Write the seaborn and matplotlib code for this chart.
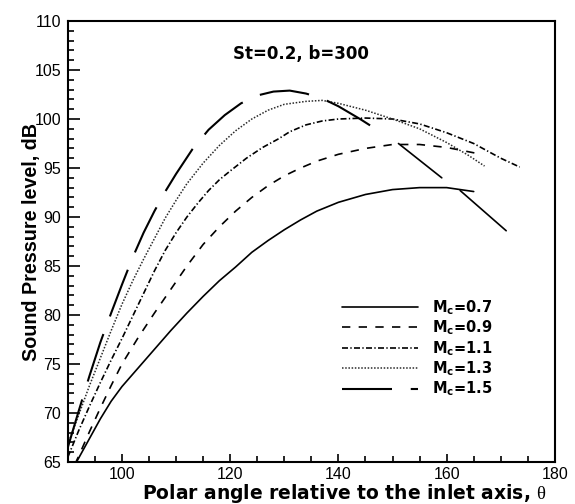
import matplotlib
matplotlib.use("Agg")
import matplotlib.pyplot as plt
import seaborn as sns
from matplotlib.ticker import MultipleLocator

# curves (theta in degrees, SPL in dB)
theta_07 = [90, 92, 94, 96, 98, 100, 103, 106, 109, 112, 115, 118, 121, 124,
            127, 130, 133, 136, 140, 145, 150, 155, 160, 165]
spl_07 = [63.4, 65.4, 67.4, 69.4, 71.2, 72.7, 74.6, 76.5, 78.4, 80.2, 81.9, 83.5,
          84.9, 86.4, 87.6, 88.7, 89.7, 90.6, 91.5, 92.3, 92.8, 93.0, 93.0, 92.6]
branch_07_x = [162.5, 171.0]
branch_07_y = [92.7, 88.6]

theta_09 = [90, 92, 94, 96, 98, 100, 103, 106, 109, 112, 115, 118, 121, 124,
            127, 130, 133, 136, 140, 145, 150, 155, 160, 165.5]
spl_09 = [63.2, 65.6, 68.1, 70.5, 72.8, 75.0, 77.7, 80.2, 82.6, 85.0, 87.2, 89.0,
          90.6, 92.0, 93.2, 94.2, 95.0, 95.7, 96.4, 97.0, 97.4, 97.4, 97.1, 96.5]
branch_09_x = [151.1, 159.1]
branch_09_y = [97.5, 94.0]

theta_11 = [90, 92, 94, 96, 98, 100, 102, 104, 106, 108, 110, 112, 114, 116, 118,
            120, 123, 126, 129, 131, 134, 137, 140, 145, 150, 155, 160, 165, 170, 173.5]
spl_11 = [65.5, 68.2, 70.7, 73.1, 75.4, 77.6, 79.9, 82.2, 84.5, 86.6, 88.4, 90.0,
          91.4, 92.7, 93.8, 94.7, 96.0, 97.1, 98.0, 98.7, 99.4, 99.8, 100.0, 100.1,
          100.0, 99.5, 98.6, 97.5, 96.0, 95.1]

theta_13 = [90, 92, 94, 96, 98, 100, 102, 104, 106, 108, 110, 112, 115, 118, 121,
            124, 127, 130, 134, 137, 140, 145, 150, 155, 160, 164, 167]
spl_13 = [66.8, 69.8, 72.8, 75.6, 78.4, 81.1, 83.5, 85.7, 87.8, 89.9, 91.7, 93.4,
          95.5, 97.3, 98.8, 100.0, 100.9, 101.5, 101.8, 101.9, 101.6, 100.9, 100.0,
          99.0, 97.6, 96.3, 95.2]

theta_15 = [90, 92, 94, 96, 98, 100, 102, 104, 106, 108, 110, 113, 116, 119, 122,
            125, 128, 131, 134, 137, 140, 144, 147.7]
spl_15 = [66.5, 70.2, 73.8, 77.2, 80.2, 83.1, 85.9, 88.4, 90.6, 92.6, 94.4, 96.9,
          98.9, 100.4, 101.6, 102.4, 102.8, 102.9, 102.6, 102.1, 101.3, 100.0, 98.7]

labels = ["M$_\\mathbf{c}$=0.7", "M$_\\mathbf{c}$=0.9", "M$_\\mathbf{c}$=1.1",
          "M$_\\mathbf{c}$=1.3", "M$_\\mathbf{c}$=1.5"]

sns.set_style("ticks")
plt.rcParams["font.family"] = ["Liberation Sans", "DejaVu Sans"]
plt.rcParams["mathtext.fontset"] = "custom"
plt.rcParams["mathtext.bf"] = "DejaVu Sans:bold"
plt.rcParams["mathtext.rm"] = "Liberation Serif"
for key in ["text.color", "axes.labelcolor", "xtick.color", "ytick.color",
            "axes.edgecolor"]:
    plt.rcParams[key] = "black"

fig = plt.figure(figsize=(5.75, 5.04), dpi=100)
ax = fig.add_axes([0.118, 0.0833, 0.847, 0.875])

series = [
    (theta_07, spl_07, "-", 1.2, "black"),
    (theta_09, spl_09, (0, (5, 5)), 1.2, "black"),
    (theta_11, spl_11, (0, (3.6, 1.4, 0.8, 1.4)), 1.2, "black"),
    (theta_13, spl_13, (0, (1, 1.1)), 1.1, "#2a2a2a"),
    (theta_15, spl_15, (0, (24, 9)), 1.5, "black"),
]
for (x, y, ls, lw, c), lab in zip(series, labels):
    sns.lineplot(x=x, y=y, ax=ax, color=c, linestyle=ls, linewidth=lw,
                 label=lab, errorbar=None)

# straight solid branches
sns.lineplot(x=branch_07_x, y=branch_07_y, ax=ax, color="black", linewidth=1.2,
             errorbar=None)
sns.lineplot(x=branch_09_x, y=branch_09_y, ax=ax, color="black", linewidth=1.2,
             errorbar=None)

ax.set_xlim(90, 180)
ax.set_ylim(65, 110)
ax.xaxis.set_major_locator(MultipleLocator(20))
ax.xaxis.set_minor_locator(MultipleLocator(5))
ax.yaxis.set_major_locator(MultipleLocator(5))
ax.yaxis.set_minor_locator(MultipleLocator(1))
ax.tick_params(axis="both", which="both", direction="in", top=False, right=False,
               labelsize=11.5, width=1.2, colors="black")
ax.tick_params(axis="x", which="major", length=6, pad=3.8)
ax.tick_params(axis="x", which="minor", length=4)
ax.tick_params(axis="y", which="major", length=8.5, pad=5)
ax.tick_params(axis="y", which="minor", length=4.5)
for sp in ax.spines.values():
    sp.set_linewidth(1.5)
    sp.set_color("black")
    sp.set_visible(True)

ax.set_xlabel("Polar angle relative to the inlet axis, $\\mathrm{\\theta}$",
              fontsize=13.5, fontweight="bold", family="DejaVu Sans")
ax.xaxis.set_label_coords(0.568, -0.0835)
ax.xaxis.label.set_va("baseline")
ax.set_ylabel("Sound Pressure level, dB", fontsize=14.2, fontweight="bold")
ax.yaxis.set_label_coords(-0.064, 0.5)
ax.yaxis.label.set_va("baseline")

ax.text(133, 106.6, "St=0.2, b=300", fontsize=12, fontweight="bold",
        family="DejaVu Sans", ha="center", va="center")

ax.legend(loc="upper left", bbox_to_anchor=(0.563, 0.372), frameon=False,
          prop={"weight": "bold", "size": 10.5, "family": "DejaVu Sans"},
          handlelength=5.2, handletextpad=1.0, labelspacing=0.12, borderpad=0,
          borderaxespad=0)

fig.savefig("out.png", dpi=100)
